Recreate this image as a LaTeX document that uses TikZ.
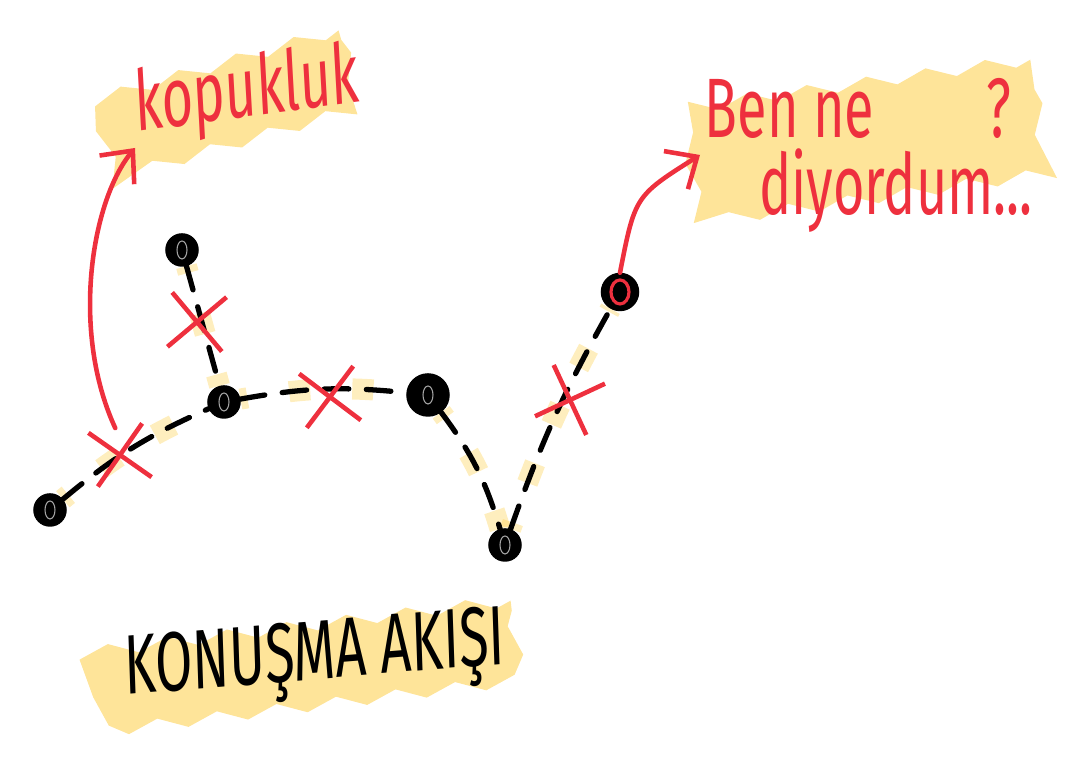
\documentclass[tikz,border=0pt]{standalone}
\usepackage{fontspec}
\setmainfont{Fira Sans}
\usetikzlibrary{arrows.meta, positioning, shapes.misc, decorations.pathmorphing}
\definecolor{marker}{RGB}{253,205,70}
\definecolor{pen}{RGB}{238,48,62}

\begin{document}
\begin{tikzpicture}[
    dot/.style={circle, fill=black, draw=black, line width=1pt, minimum size=3mm, inner sep=0pt,
        path picture={\draw[gray!70, line width=0.3pt] (path picture bounding box.center) ellipse (0.5mm and 0.9mm);}},
    hotdot/.style={dot, path picture={\draw[pen, line width=0.9pt] (path picture bounding box.center) ellipse (0.9mm and 1.2mm);}},
    link/.style={black, line width=1.5pt, line cap=round, dash pattern=on 7pt off 5pt},
    glow/.style={marker, opacity=0.35, line width=6pt, dash pattern=on 6pt off 12pt, dash phase=4pt},
    cut/.style={cross out, draw=pen, line width=1.3pt, minimum size=5mm, inner sep=0pt},
    redarrow/.style={pen, line width=1.3pt, line cap=round, -{Straight Barb[length=2.5mm, width=4.5mm]}},
    blob/.style={fill=marker, fill opacity=0.55, inner sep=0pt, decorate,
        decoration={zigzag, segment length=6mm, amplitude=0.6mm}},
    note/.style={text=pen, font=\fontsize{24}{22}\selectfont, align=left, xscale=0.64, transform shape},
]
\useasboundingbox (0,0) rectangle (10.9,7.66);

% Marker highlights behind the labels
\node[blob, minimum width=2.55cm, minimum height=0.8cm, rotate=16] (hlkop) at (2.27,6.62) {};
\node[blob, minimum width=3.5cm, minimum height=1.15cm, rotate=8] (hlben) at (8.65,6.25) {};
\node[blob, minimum width=4.2cm, minimum height=0.8cm, rotate=7] (hlflow) at (3.07,1.00) {};

% Conversation points
\node[dot] (A) at (0.50,2.56) {};
\node[dot] (B) at (1.82,5.16) {};
\node[dot] (C) at (2.24,3.64) {};
\node[dot, minimum size=4mm] (D) at (4.28,3.71) {};
\node[dot] (E) at (5.05,2.21) {};
\node[hotdot, minimum size=3.5mm] (F) at (6.20,4.74) {};

% Dashed flow with faint marker strokes
\draw[glow] (A) to[bend left=8] (C);
\draw[glow] (B) -- (C);
\draw[glow] (C) to[bend left=8] (D);
\draw[glow] (D) to[bend left=10] (E);
\draw[glow] (E) to[bend left=5] (F);
\draw[link] (A) to[bend left=8] (C);
\draw[link] (B) -- (C);
\draw[link] (C) to[bend left=8] (D);
\draw[link] (D) to[bend left=10] (E);
\draw[link] (E) to[bend left=5] (F);

% Breaks
\node[cut, rotate=10] (x1) at (1.20,3.11) {};
\node[cut, rotate=-5] (x2) at (1.97,4.44) {};
\node[cut, rotate=8] (x3) at (3.30,3.69) {};
\node[cut, rotate=-20] (x4) at (5.70,3.66) {};

% Labels
\node[note, rotate=5] (kop) at (2.47,6.72) {kopukluk};
\node[note, anchor=north west] (ben) at (6.97,7.00) {Ben ne\hspace{1.75cm}?\\\hspace{0.85cm}diyordum...};
\node[font=\fontsize{24}{28}\selectfont, xscale=0.64, transform shape, rotate=3] (flow) at (3.15,1.06) {KONUŞMA AKIŞI};

% Arrows to the labels
\coordinate (kopin) at (1.35,6.18);
\coordinate (benin) at (7.00,6.11);
\draw[redarrow] (x1.north) .. controls (0.70,4.36) and (0.92,5.66) .. (kopin);
\draw[redarrow] (F.north) .. controls (6.35,5.70) .. (benin);

\end{tikzpicture}
\end{document}
